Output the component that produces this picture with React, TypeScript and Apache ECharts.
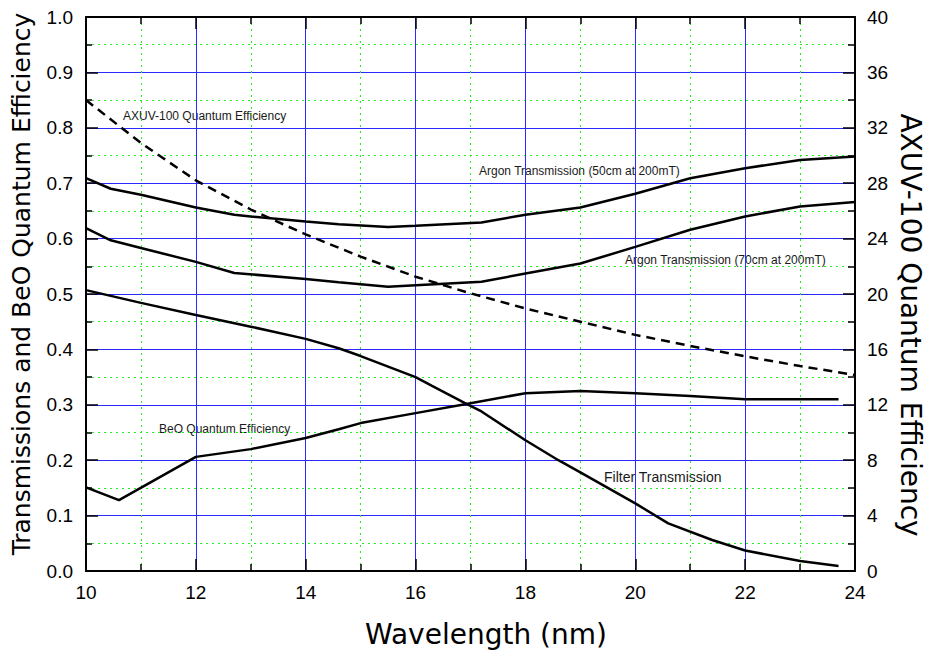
import React, { useEffect, useRef } from 'react';
import * as echarts from 'echarts';

// Wavelength (nm) and values
const axuvX = [10, 11, 12, 13, 14, 15, 16, 17, 18, 19, 20, 21, 22, 23, 24];
const axuvQE = [34.0, 30.9, 28.2, 26.1, 24.3, 22.7, 21.25, 20.05, 18.95, 18.0, 17.05, 16.25, 15.5, 14.8, 14.15];

const argon50X = [10, 10.45, 11, 12, 12.7, 13, 14, 14.6, 15.5, 16, 17.2, 18, 19, 20, 21, 22, 23, 24];
const argon50T = [0.709, 0.69, 0.679, 0.656, 0.643, 0.64, 0.631, 0.626, 0.621, 0.623, 0.629, 0.643, 0.656, 0.681, 0.709, 0.727, 0.742, 0.748];

const argon70X = [10, 10.45, 11, 12, 12.7, 14, 14.6, 15.5, 16, 17.2, 18, 19, 20, 21, 22, 23, 24];
const argon70T = [0.619, 0.597, 0.583, 0.558, 0.538, 0.527, 0.521, 0.513, 0.516, 0.522, 0.537, 0.555, 0.585, 0.616, 0.64, 0.658, 0.666];

const filterX = [10, 11, 12, 13, 14, 14.6, 15, 16, 16.3, 16.9, 17.2, 18, 18.6, 19, 20, 20.6, 21.4, 22, 23, 23.7];
const filterT = [0.507, 0.484, 0.462, 0.441, 0.419, 0.402, 0.388, 0.35, 0.334, 0.303, 0.288, 0.236, 0.2, 0.178, 0.122, 0.086, 0.056, 0.037, 0.018, 0.009];

const beoX = [10, 10.6, 12, 13, 14, 14.6, 15, 16, 16.9, 18, 19, 20, 21, 22, 23.7];
const beoQE = [0.151, 0.128, 0.206, 0.22, 0.24, 0.256, 0.267, 0.285, 0.301, 0.321, 0.325, 0.321, 0.316, 0.31, 0.31];

const xTitle = 'Wavelength (nm)';
const leftTitle = 'Transmissions and BeO Quantum Efficiency';
const rightTitle = 'AXUV-100 Quantum Efficiency';

const pair = (xs: number[], ys: number[]) => xs.map((x, i) => [x, ys[i]]);

const TICK_FONT = 'Liberation Sans, Arial, sans-serif';
const TITLE_FONT = 'DejaVu Sans';
const NOTE_FONT = 'Liberation Sans, Arial, sans-serif';
const BLUE = '#2a2aff';
const GREEN = '#22ee22';

export default function App() {
  const ref = useRef<HTMLDivElement>(null);
  useEffect(() => {
    const chart = echarts.init(ref.current!, null, { renderer: 'svg' });
    const tickStyle = { color: '#000', width: 1.5 };
    const baseAxisLine = { show: true, onZero: false, lineStyle: { color: '#000', width: 2 } };
    const labelStyle = { color: '#000', fontSize: 19, fontFamily: TICK_FONT };
    const solid = { color: '#000', width: 2.5 };
    const option: any = {
      animation: false,
      backgroundColor: '#fff',
      grid: { left: 86, right: 70, top: 17, bottom: 87, containLabel: false },
      xAxis: [
        {
          type: 'value', min: 10, max: 24, interval: 2, position: 'bottom',
          axisLine: baseAxisLine,
          axisTick: { show: true, inside: true, length: 12, lineStyle: tickStyle },
          minorTick: { show: true, splitNumber: 2, length: 7, lineStyle: tickStyle },
          axisLabel: { ...labelStyle, margin: 12, showMinLabel: true, showMaxLabel: true },
          splitLine: { show: true, lineStyle: { color: BLUE, width: 1 } },
          minorSplitLine: { show: true, lineStyle: { color: GREEN, width: 1, type: [2, 4] } },
        },
        {
          type: 'value', min: 10, max: 24, interval: 2, position: 'top',
          axisLine: baseAxisLine,
          axisTick: { show: true, inside: true, length: 12, lineStyle: tickStyle },
          minorTick: { show: true, splitNumber: 2, length: 7, lineStyle: tickStyle },
          axisLabel: { show: false },
          splitLine: { show: false },
        },
      ],
      yAxis: [
        {
          type: 'value', min: 0, max: 1, interval: 0.1, position: 'left',
          axisLine: baseAxisLine,
          axisTick: { show: true, inside: true, length: 12, lineStyle: tickStyle },
          minorTick: { show: true, splitNumber: 2, length: 6, lineStyle: tickStyle },
          axisLabel: { ...labelStyle, margin: 13, formatter: (v: number) => v.toFixed(1), showMinLabel: true, showMaxLabel: true },
          splitLine: { show: true, lineStyle: { color: BLUE, width: 1 } },
          minorSplitLine: { show: true, lineStyle: { color: GREEN, width: 1, type: [2, 4] } },
        },
        {
          type: 'value', min: 0, max: 40, interval: 4, position: 'right',
          axisLine: baseAxisLine,
          axisTick: { show: true, inside: true, length: 12, lineStyle: tickStyle },
          minorTick: { show: true, splitNumber: 2, length: 7, lineStyle: tickStyle },
          axisLabel: { ...labelStyle, margin: 12, showMinLabel: true, showMaxLabel: true },
          splitLine: { show: false },
        },
      ],
      series: [
        { name: 'AXUV', type: 'line', yAxisIndex: 1, data: pair(axuvX, axuvQE), symbol: 'none', lineStyle: { color: '#000', width: 2.5, type: [9, 6] } },
        { name: 'Argon50', type: 'line', data: pair(argon50X, argon50T), symbol: 'none', lineStyle: solid },
        { name: 'Argon70', type: 'line', data: pair(argon70X, argon70T), symbol: 'none', lineStyle: solid },
        { name: 'Filter', type: 'line', data: pair(filterX, filterT), symbol: 'none', lineStyle: solid },
        { name: 'BeO', type: 'line', data: pair(beoX, beoQE), symbol: 'none', lineStyle: solid },
      ],
      graphic: [
        { type: 'text', x: 486, y: 634, style: { text: xTitle, fontSize: 28, fontFamily: TITLE_FONT, fill: '#000', align: 'center', verticalAlign: 'middle' } },
        { type: 'text', x: 21, y: 284, rotation: Math.PI / 2, style: { text: leftTitle, fontSize: 25, fontFamily: TITLE_FONT, fill: '#000', align: 'center', verticalAlign: 'middle' } },
        { type: 'text', x: 910, y: 325, rotation: -Math.PI / 2, style: { text: rightTitle, fontSize: 28, fontFamily: TITLE_FONT, fill: '#000', align: 'center', verticalAlign: 'middle' } },
        { type: 'text', x: 123, y: 116, style: { text: 'AXUV-100 Quantum Efficiency', fontSize: 12, fontFamily: NOTE_FONT, fill: '#1a1a1a', align: 'left', verticalAlign: 'middle' } },
        { type: 'text', x: 479, y: 171, style: { text: 'Argon Transmission (50cm at 200mT)', fontSize: 12, fontFamily: NOTE_FONT, fill: '#1a1a1a', align: 'left', verticalAlign: 'middle' } },
        { type: 'text', x: 625, y: 260, style: { text: 'Argon Transmission (70cm at 200mT)', fontSize: 12, fontFamily: NOTE_FONT, fill: '#1a1a1a', align: 'left', verticalAlign: 'middle' } },
        { type: 'text', x: 159, y: 429, style: { text: 'BeO Quantum Efficiency', fontSize: 12, fontFamily: NOTE_FONT, fill: '#1a1a1a', align: 'left', verticalAlign: 'middle' } },
        { type: 'text', x: 604, y: 477, style: { text: 'Filter Transmission', fontSize: 14, fontFamily: NOTE_FONT, fill: '#1a1a1a', align: 'left', verticalAlign: 'middle' } },
      ],
    };
    chart.setOption(option);
    return () => chart.dispose();
  }, []);
  return <div ref={ref} style={{ position: 'fixed', left: 0, top: 0, width: 925, height: 658, background: '#fff' }} />;
}
